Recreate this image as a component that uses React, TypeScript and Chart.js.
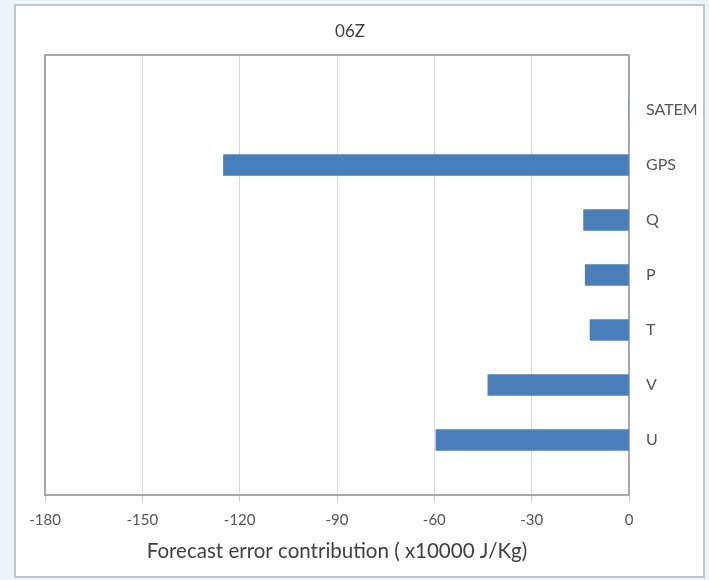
import React, { useEffect, useRef } from "react";
import { Chart, registerables } from "chart.js";

Chart.register(...registerables);

// Category positions (blank slots at both ends, as in the reference)
const categories = ["", "SATEM", "GPS", "Q", "P", "T", "V", "U", ""];
const contributions = [null, 0, -125, -14, -13.5, -12, -43.5, -59.5, null];
const xTickMin = -180;
const xTickMax = 0;
const xTickStep = 30;
const chartTitle = "06Z";
const xAxisTitle = "Forecast error contribution ( x10000 J/Kg)";

const FONT = "Lato, 'Open Sans', sans-serif";
const TEXT = "#555555";

// Plot frame (top/left) and the chart title, centred over the whole panel
const decorations = {
  id: "decorations",
  afterDraw(chart: any) {
    const { ctx, chartArea } = chart;
    ctx.save();
    ctx.strokeStyle = "#a8a8a8";
    ctx.lineWidth = 2;
    ctx.beginPath();
    ctx.moveTo(chartArea.left, chartArea.bottom);
    ctx.lineTo(chartArea.left, chartArea.top);
    ctx.lineTo(chartArea.right, chartArea.top);
    ctx.stroke();

    ctx.fillStyle = "#404040";
    ctx.font = `17px ${FONT}`;
    ctx.textAlign = "center";
    ctx.textBaseline = "middle";
    ctx.fillText(chartTitle, 350, chartArea.top - 23);
    ctx.restore();
  },
};

export default function App() {
  const ref = useRef<HTMLCanvasElement | null>(null);

  useEffect(() => {
    if (!ref.current) return;
    const chart = new Chart(ref.current, {
      type: "bar",
      data: {
        labels: categories,
        datasets: [
          {
            data: contributions as any,
            backgroundColor: "#4a7ebb",
            borderWidth: 0,
            barThickness: 21,
          },
        ],
      },
      options: {
        indexAxis: "y",
        animation: false,
        responsive: false,
        maintainAspectRatio: false,
        layout: { padding: { left: 45, right: 0, top: 55, bottom: 0 } },
        plugins: {
          legend: { display: false },
          tooltip: { enabled: false },
          title: { display: false },
        },
        scales: {
          x: {
            type: "linear",
            min: xTickMin,
            max: xTickMax,
            ticks: {
              stepSize: xTickStep,
              color: TEXT,
              font: { family: FONT, size: 15 },
              padding: 9,
            },
            grid: {
              color: "#d9d9d9",
              lineWidth: 1,
              tickLength: 7,
              tickColor: "#c8c8c8",
            },
            border: { display: true, color: "#a8a8a8", width: 2 },
            title: {
              display: true,
              text: xAxisTitle,
              color: "#404040",
              font: { family: FONT, size: 20.5 },
              padding: { top: 0, bottom: 16 },
            },
            afterFit: (scale: any) => {
              scale.height = 85;
            },
          },
          y: {
            type: "category",
            position: "right",
            offset: false,
            grid: { display: false, drawTicks: false },
            border: { display: true, color: "#a8a8a8", width: 2 },
            ticks: {
              color: TEXT,
              font: { family: FONT, size: 16 },
              padding: 17,
              autoSkip: false,
            },
            afterFit: (scale: any) => {
              scale.width = 80;
            },
          },
        },
      },
      plugins: [decorations],
    });
    return () => chart.destroy();
  }, []);

  return (
    <div
      style={{
        position: "fixed",
        left: 0,
        top: 0,
        width: 709,
        height: 580,
        background: "#ecf3fa",
        overflow: "hidden",
      }}
    >
      <div
        style={{
          position: "absolute",
          left: 14,
          top: 4,
          width: 691,
          height: 574,
          boxSizing: "border-box",
          border: "2px solid #c4c4c4",
          background: "#ffffff",
        }}
      />
      <canvas
        ref={ref}
        width={709}
        height={580}
        style={{ position: "absolute", left: 0, top: 0, width: 709, height: 580 }}
      />
    </div>
  );
}
